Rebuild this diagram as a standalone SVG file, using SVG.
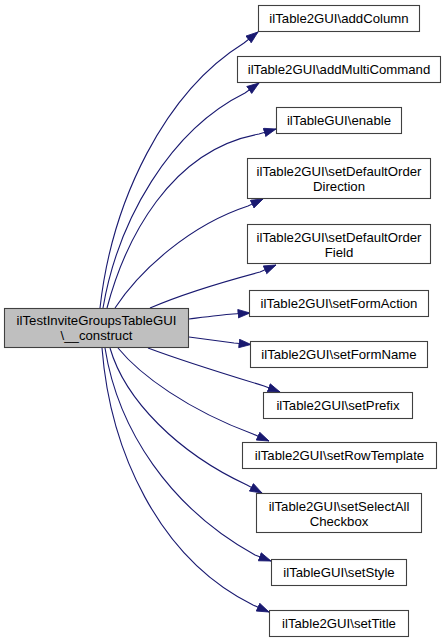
<svg xmlns="http://www.w3.org/2000/svg" width="447" height="641" viewBox="0 0 447 641">
<defs>
<style>
.node rect{fill:#ffffff;stroke:#404040;stroke-width:1.1}
.node.main rect{fill:#bfbfbf}
text{font-family:"Liberation Sans",Arial,Helvetica,sans-serif;font-size:13.2px;fill:#000;text-anchor:middle}
.edges path{fill:none;stroke:#191970;stroke-width:1.1;marker-end:url(#arrow)}
</style>
<marker id="arrow" markerUnits="userSpaceOnUse" markerWidth="13" markerHeight="10" refX="12.5" refY="4.75" orient="auto">
<path d="M0.5,0.5 L12.5,4.75 L0.5,9 z" fill="#191970" stroke="#191970" stroke-width="0.8"/>
</marker>
</defs>
<rect width="447" height="641" fill="#ffffff"/>
<g id="edges" class="edges">
<path d="M100,308 C112,200 165,92 244,43 L258,32"/>
<path d="M103,308 C118,220 170,130 245,93 L259,83"/>
<path d="M107,308 C125,240 170,150 259,134 L276,129"/>
<path d="M115,308 C140,270 190,225 248,206 L263,199"/>
<path d="M150,308 C180,295 230,280 260,272 L276,265"/>
<path d="M189,319 C205,317 220,315 233,314 L250,313"/>
<path d="M189,337 C205,339 220,341 234,343 L251,344.5"/>
<path d="M148,348 C180,360 228,375 264,386 L280,392"/>
<path d="M118,348 C140,375 188,410 253,434 L269,441"/>
<path d="M110,348 C125,400 178,453 247,485 L262,493"/>
<path d="M105,348 C118,430 170,508 255,555 L271,561"/>
<path d="M102,348 C110,450 158,558 253,605 L269,612"/>
</g>
<g id="node-main" class="node main">
<rect x="4.5" y="308.5" width="184" height="39"/>
<text x="96.5" y="325">ilTestInviteGroupsTableGUI</text>
<text x="96.5" y="340">\__construct</text>
</g>
<g id="node-addColumn" class="node">
<rect x="258.5" y="5.5" width="161" height="26"/>
<text x="339" y="23">ilTable2GUI\addColumn</text>
</g>
<g id="node-addMultiCommand" class="node">
<rect x="237.5" y="56.5" width="203" height="26"/>
<text x="339" y="74">ilTable2GUI\addMultiCommand</text>
</g>
<g id="node-enable" class="node">
<rect x="276.5" y="107.5" width="125" height="26"/>
<text x="339" y="125">ilTableGUI\enable</text>
</g>
<g id="node-setDefaultOrderDirection" class="node">
<rect x="247.5" y="158.5" width="183" height="40"/>
<text x="339" y="176">ilTable2GUI\setDefaultOrder</text>
<text x="339" y="191">Direction</text>
</g>
<g id="node-setDefaultOrderField" class="node">
<rect x="247.5" y="224.5" width="183" height="39"/>
<text x="339" y="242">ilTable2GUI\setDefaultOrder</text>
<text x="339" y="257">Field</text>
</g>
<g id="node-setFormAction" class="node">
<rect x="249.5" y="290.5" width="179" height="26"/>
<text x="339" y="308">ilTable2GUI\setFormAction</text>
</g>
<g id="node-setFormName" class="node">
<rect x="250.5" y="341.5" width="177" height="26"/>
<text x="339" y="359">ilTable2GUI\setFormName</text>
</g>
<g id="node-setPrefix" class="node">
<rect x="263.5" y="392.5" width="149" height="26"/>
<text x="338" y="410">ilTable2GUI\setPrefix</text>
</g>
<g id="node-setRowTemplate" class="node">
<rect x="242.5" y="442.5" width="194" height="26"/>
<text x="339.5" y="460">ilTable2GUI\setRowTemplate</text>
</g>
<g id="node-setSelectAllCheckbox" class="node">
<rect x="256.5" y="493.5" width="165" height="39"/>
<text x="339" y="511">ilTable2GUI\setSelectAll</text>
<text x="339" y="526">Checkbox</text>
</g>
<g id="node-setStyle" class="node">
<rect x="271.5" y="559.5" width="135" height="26"/>
<text x="339" y="577">ilTableGUI\setStyle</text>
</g>
<g id="node-setTitle" class="node">
<rect x="269.5" y="610.5" width="139" height="26"/>
<text x="339" y="628">ilTable2GUI\setTitle</text>
</g>
</svg>
